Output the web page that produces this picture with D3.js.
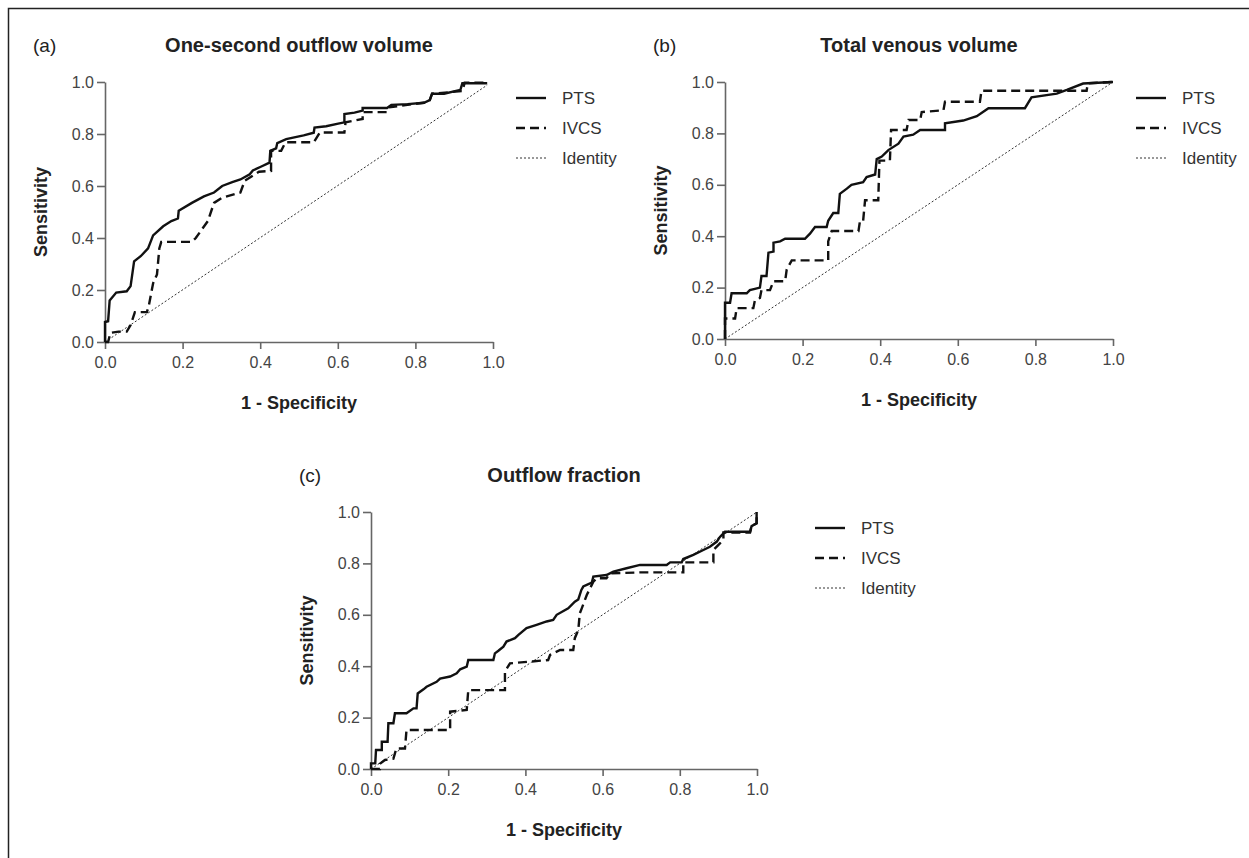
<!DOCTYPE html>
<html><head><meta charset="utf-8">
<script src="https://cdn.jsdelivr.net/npm/d3@7"></script>
<style>body{margin:0;background:#fff}svg{display:block}</style>
</head><body><svg id="chart" width="1249" height="858"></svg>
<script>
// ---------- data ----------
const tickValues = [0, 0.2, 0.4, 0.6, 0.8, 1.0];
const tickLabels = ["0.0", "0.2", "0.4", "0.6", "0.8", "1.0"];
const panelLetters = ["(a)", "(b)", "(c)"];
const panelTitles = ["One-second outflow volume", "Total venous volume", "Outflow fraction"];
const seriesNames = ["PTS", "IVCS", "Identity"];
const xLabel = "1 - Specificity";
const yLabel = "Sensitivity";

// Panel (a) One-second outflow volume: [1 - specificity, sensitivity]
const aPTS = [[0,0],[0,0.077],[0.008,0.08],[0.012,0.16],[0.029,0.19],[0.056,0.195],[0.066,0.215],[0.075,0.31],[0.092,0.33],[0.111,0.36],[0.124,0.41],[0.150,0.445],[0.171,0.465],[0.188,0.475],[0.190,0.505],[0.224,0.535],[0.255,0.56],[0.281,0.575],[0.302,0.60],[0.328,0.615],[0.349,0.625],[0.373,0.645],[0.381,0.66],[0.403,0.675],[0.424,0.69],[0.426,0.735],[0.441,0.745],[0.444,0.765],[0.467,0.78],[0.512,0.795],[0.538,0.805],[0.540,0.825],[0.570,0.83],[0.601,0.84],[0.617,0.845],[0.617,0.877],[0.643,0.882],[0.664,0.89],[0.664,0.9],[0.727,0.9],[0.738,0.912],[0.780,0.915],[0.822,0.92],[0.837,0.93],[0.843,0.955],[0.874,0.955],[0.916,0.97],[0.921,0.995],[0.985,0.995]];
const aIVCS = [[0,0],[0.008,0],[0.014,0.035],[0.035,0.04],[0.056,0.04],[0.066,0.065],[0.077,0.115],[0.108,0.115],[0.113,0.14],[0.124,0.226],[0.134,0.26],[0.140,0.36],[0.145,0.385],[0.224,0.385],[0.234,0.40],[0.265,0.465],[0.281,0.535],[0.302,0.555],[0.349,0.575],[0.360,0.62],[0.397,0.655],[0.428,0.658],[0.428,0.735],[0.454,0.735],[0.465,0.768],[0.538,0.768],[0.554,0.806],[0.617,0.806],[0.620,0.845],[0.664,0.858],[0.664,0.884],[0.727,0.884],[0.732,0.903],[0.822,0.92],[0.837,0.93],[0.843,0.955],[0.921,0.965],[0.927,0.997],[0.984,0.997]];
const aIdentity = [[0,0],[0.985,0.988]];

// Panel (b) Total venous volume
const bPTS = [[0,0],[0,0.141],[0.013,0.141],[0.017,0.178],[0.056,0.178],[0.064,0.19],[0.077,0.195],[0.090,0.2],[0.094,0.245],[0.107,0.245],[0.112,0.336],[0.125,0.34],[0.125,0.375],[0.142,0.38],[0.155,0.39],[0.206,0.39],[0.219,0.41],[0.232,0.436],[0.262,0.436],[0.266,0.46],[0.279,0.49],[0.292,0.49],[0.296,0.565],[0.314,0.585],[0.326,0.60],[0.356,0.61],[0.365,0.63],[0.387,0.64],[0.391,0.70],[0.404,0.71],[0.421,0.735],[0.447,0.76],[0.460,0.788],[0.485,0.795],[0.503,0.813],[0.567,0.813],[0.567,0.839],[0.614,0.85],[0.649,0.867],[0.679,0.898],[0.773,0.898],[0.790,0.94],[0.855,0.955],[0.881,0.969],[0.923,0.994],[1,1]];
const bIVCS = [[0,0],[0,0.08],[0.026,0.08],[0.030,0.12],[0.073,0.12],[0.077,0.15],[0.090,0.16],[0.094,0.19],[0.116,0.19],[0.125,0.225],[0.155,0.225],[0.159,0.27],[0.172,0.306],[0.266,0.306],[0.266,0.38],[0.275,0.42],[0.344,0.42],[0.348,0.46],[0.356,0.46],[0.361,0.54],[0.395,0.54],[0.398,0.694],[0.425,0.694],[0.428,0.813],[0.468,0.813],[0.473,0.852],[0.503,0.852],[0.507,0.883],[0.563,0.89],[0.567,0.923],[0.657,0.923],[0.661,0.966],[0.932,0.966],[0.935,0.995],[1,1]];
const bIdentity = [[0,0],[1,1]];

// Panel (c) Outflow fraction
const cPTS = [[0,0],[0,0.022],[0.011,0.022],[0.013,0.074],[0.028,0.074],[0.028,0.106],[0.043,0.106],[0.045,0.178],[0.058,0.178],[0.062,0.217],[0.092,0.217],[0.110,0.236],[0.118,0.236],[0.121,0.294],[0.136,0.31],[0.144,0.32],[0.170,0.339],[0.179,0.352],[0.205,0.36],[0.222,0.372],[0.231,0.388],[0.248,0.398],[0.252,0.424],[0.317,0.424],[0.321,0.45],[0.330,0.46],[0.343,0.476],[0.351,0.496],[0.373,0.509],[0.382,0.522],[0.403,0.548],[0.429,0.561],[0.455,0.574],[0.472,0.58],[0.481,0.6],[0.511,0.625],[0.528,0.651],[0.537,0.66],[0.545,0.697],[0.55,0.71],[0.572,0.725],[0.576,0.749],[0.61,0.755],[0.628,0.768],[0.662,0.781],[0.697,0.794],[0.766,0.794],[0.775,0.804],[0.805,0.804],[0.809,0.817],[0.835,0.833],[0.861,0.852],[0.878,0.865],[0.896,0.885],[0.904,0.903],[0.913,0.917],[0.917,0.923],[0.982,0.923],[0.986,0.945],[0.999,0.956],[0.999,1.0]];
const cIVCS = [[0,0],[0.023,0],[0.023,0.02],[0.036,0.035],[0.058,0.04],[0.062,0.061],[0.066,0.08],[0.088,0.08],[0.092,0.152],[0.205,0.152],[0.205,0.223],[0.248,0.23],[0.252,0.307],[0.347,0.307],[0.347,0.379],[0.360,0.411],[0.459,0.424],[0.464,0.444],[0.49,0.463],[0.524,0.463],[0.528,0.509],[0.537,0.541],[0.541,0.606],[0.546,0.625],[0.559,0.677],[0.576,0.729],[0.585,0.742],[0.61,0.742],[0.619,0.761],[0.697,0.765],[0.809,0.765],[0.809,0.804],[0.887,0.804],[0.887,0.852],[0.904,0.878],[0.913,0.891],[0.913,0.92],[0.982,0.92],[0.986,0.945],[0.999,0.956],[0.999,1.0]];
const cIdentity = [[0,0],[1,1]];

// ---------- layout ----------
const panelSeries = [[aPTS, aIVCS, aIdentity], [bPTS, bIVCS, bIdentity], [cPTS, cIVCS, cIdentity]];
const panelBoxes = [
  {l: 105, r: 493, t: 82, b: 342, legDx: 23},
  {l: 725, r: 1113, t: 82, b: 339, legDx: 23},
  {l: 371, r: 757, t: 512, b: 769, legDx: 58}
];
const seriesStyles = [
  {w: 2.4, dash: null, color: "#111"},
  {w: 2.4, dash: "9,5", color: "#111"},
  {w: 1, dash: "2,2", color: "#333"}
];
const FONT = "'Liberation Sans', Arial, Helvetica, sans-serif";
const svg = d3.select("#chart");

// frame
svg.append("rect").attr("x", 8.5).attr("y", 8.5).attr("width", 1249).attr("height", 860)
  .attr("fill", "none").attr("stroke", "#222").attr("stroke-width", 1.5);

panelBoxes.forEach((bx, pi) => {
  const x = d3.scaleLinear().domain([0, 1]).range([bx.l, bx.r]);
  const y = d3.scaleLinear().domain([0, 1]).range([bx.b, bx.t]);
  const g = svg.append("g");

  // axes
  const xa = g.append("g").attr("transform", `translate(0,${bx.b})`)
    .call(d3.axisBottom(x).tickValues(tickValues).tickFormat((d, i) => tickLabels[i])
      .tickSize(7).tickSizeOuter(0).tickPadding(8));
  const ya = g.append("g").attr("transform", `translate(${bx.l},0)`)
    .call(d3.axisLeft(y).tickValues(tickValues).tickFormat((d, i) => tickLabels[i])
      .tickSize(8).tickSizeOuter(0).tickPadding(3));
  [xa, ya].forEach(a => {
    a.select(".domain").attr("stroke", "#666").attr("stroke-width", 1.6);
    a.selectAll(".tick line").attr("stroke", "#666").attr("stroke-width", 1.6);
    a.selectAll(".tick text").attr("fill", "#444").style("font-family", FONT).style("font-size", "16px");
  });

  // series
  const line = d3.line().x(d => x(d[0])).y(d => y(d[1]));
  [2, 1, 0].forEach(si => {
    const st = seriesStyles[si];
    g.append("path").datum(panelSeries[pi][si]).attr("d", line)
      .attr("fill", "none").attr("stroke", st.color).attr("stroke-width", st.w)
      .attr("stroke-dasharray", st.dash).attr("stroke-linejoin", "miter");
  });

  // titles
  const cx = (bx.l + bx.r) / 2;
  g.append("text").attr("x", cx).attr("y", bx.t - 30).attr("text-anchor", "middle")
    .style("font-family", FONT).style("font-size", "20px").style("font-weight", "bold")
    .attr("fill", "#222").text(panelTitles[pi]);
  g.append("text").attr("x", bx.l - 72).attr("y", bx.t - 30)
    .style("font-family", FONT).style("font-size", "19px").attr("fill", "#222").text(panelLetters[pi]);
  g.append("text").attr("x", cx).attr("y", bx.b + 67).attr("text-anchor", "middle")
    .style("font-family", FONT).style("font-size", "18px").style("font-weight", "bold")
    .attr("fill", "#222").text(xLabel);
  g.append("text").attr("transform", `translate(${bx.l - 58},${(bx.t + bx.b) / 2}) rotate(-90)`)
    .attr("text-anchor", "middle")
    .style("font-family", FONT).style("font-size", "18px").style("font-weight", "bold")
    .attr("fill", "#222").text(yLabel);

  // legend
  const lx = bx.r + bx.legDx, ly0 = bx.t + 16;
  seriesNames.forEach((name, si) => {
    const st = seriesStyles[si];
    const ly = ly0 + si * 30;
    g.append("line").attr("x1", lx).attr("x2", lx + 30).attr("y1", ly).attr("y2", ly)
      .attr("stroke", st.color).attr("stroke-width", st.w).attr("stroke-dasharray", st.dash);
    g.append("text").attr("x", lx + 46).attr("y", ly + 6)
      .style("font-family", FONT).style("font-size", "17px").attr("fill", "#333").text(name);
  });
});
</script></body></html>
